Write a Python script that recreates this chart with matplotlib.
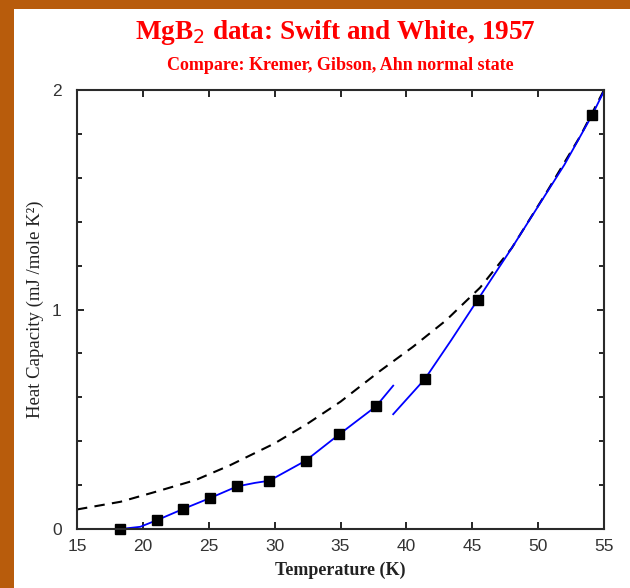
import matplotlib
matplotlib.use("Agg")
import matplotlib.pyplot as plt
from matplotlib.patches import Rectangle
from matplotlib.ticker import MultipleLocator

# ------------------------------------------------------------------ data
# Swift & White 1957 measured points
temp_pts = [18.3, 21.1, 23.05, 25.1, 27.15, 29.6, 32.35, 34.9, 37.7, 41.4, 45.4, 54.1]
cap_pts = [0.0, 0.041, 0.091, 0.141, 0.194, 0.22, 0.311, 0.431, 0.559, 0.683, 1.043, 1.886]

# blue guide line, two pieces (below / above the transition)
blue_lo_t = [18.3, 19.8, 21.1, 23.05, 25.1, 27.15, 28.5, 29.6, 32.35, 34.9, 37.7, 39.0]
blue_lo_c = [0.0, 0.01, 0.041, 0.091, 0.141, 0.194, 0.21, 0.22, 0.311, 0.431, 0.559, 0.653]
blue_hi_t = [39.0, 41.4, 43.4, 45.4, 48.0, 50.0, 52.0, 54.1, 55.0]
blue_hi_c = [0.523, 0.683, 0.86, 1.043, 1.28, 1.47, 1.66, 1.886, 1.995]

# Kremer, Gibson, Ahn normal state (dashed)
norm_t = [15, 18.3, 21, 24, 26.6, 30, 32.5, 35, 38, 40.5, 43, 45.6, 48, 50.7, 53.2, 55]
norm_c = [0.089, 0.124, 0.17, 0.223, 0.29, 0.39, 0.48, 0.58, 0.72, 0.83, 0.95, 1.10, 1.28, 1.54, 1.79, 2.0]

x_ticks = [15, 20, 25, 30, 35, 40, 45, 50, 55]
y_ticks = [0, 1, 2]

# ------------------------------------------------------------------ figure
fig = plt.figure(figsize=(6.3, 5.88), dpi=100, facecolor="#b85c0c")
# white slide panel behind everything
panel = Rectangle((14 / 630, 0), 1, 1 - 9 / 588, transform=fig.transFigure,
                  facecolor="white", edgecolor="none", zorder=-5)
fig.add_artist(panel)

ax = fig.add_axes([77 / 630, 59 / 588, 527 / 630, 439 / 588])

ax.plot(norm_t, norm_c, color="black", lw=1.5, ls=(0, (5, 3.5)))
ax.plot(blue_lo_t, blue_lo_c, color="blue", lw=1.3)
ax.plot(blue_hi_t, blue_hi_c, color="blue", lw=1.3)
ax.plot(temp_pts, cap_pts, ls="none", marker="s", ms=7, color="black", clip_on=False)

ax.set_xlim(15, 55)
ax.set_ylim(0, 2)
ax.set_xticks(x_ticks)
ax.set_yticks(y_ticks)
ax.yaxis.set_minor_locator(MultipleLocator(0.2))
ax.tick_params(direction="in", top=True, right=True, length=5, width=1.2,
               labelsize=12.5)
ax.tick_params(axis="x", pad=7)
ax.tick_params(axis="y", pad=11)
ax.tick_params(which="minor", direction="in", right=True, length=3.5, width=1.2)
for lab in ax.get_xticklabels() + ax.get_yticklabels():
    lab.set_family(["Liberation Sans", "DejaVu Sans"])
    lab.set_color("#333333")
for sp in ax.spines.values():
    sp.set_linewidth(1.5)
    sp.set_color("#2a2a2a")

ax.set_xlabel("Temperature (K)", family="Liberation Serif", fontweight="bold",
              fontsize=13, labelpad=6, color="#222222")
ax.set_ylabel("Heat Capacity (mJ /mole K\u00b2)", family="Liberation Serif",
              fontsize=13.5, labelpad=6, color="#222222")

fig.text(0.533, 0.944, "MgB$_2$ data: Swift and White, 1957", color="red",
         family="Liberation Serif", fontweight="bold", fontsize=19.5,
         ha="center", va="center")
fig.text(0.54, 0.888, "Compare: Kremer, Gibson, Ahn normal state", color="red",
         family="Liberation Serif", fontweight="bold", fontsize=13,
         ha="center", va="center")

fig.savefig("out.png", dpi=100, facecolor=fig.get_facecolor())
